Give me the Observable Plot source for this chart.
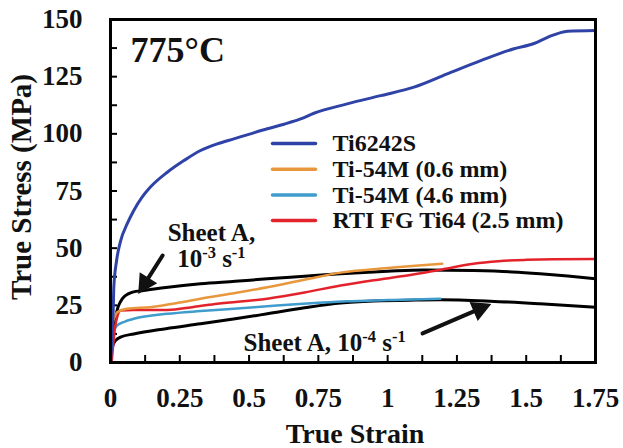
<!DOCTYPE html>
<html>
<head>
<meta charset="utf-8">
<script src="https://cdn.jsdelivr.net/npm/d3@7"></script>
<script src="https://cdn.jsdelivr.net/npm/@observablehq/plot@0.6"></script>
<style>
  body { margin: 0; background: #fff; }
  #chart svg { display: block; }
</style>
</head>
<body>
<div id="chart"></div>
<script>
// Flow curves at 775°C: true stress (MPa) against true strain.

const ti6242sStrain = [0, 0.006, 0.01, 0.012, 0.022, 0.036, 0.06, 0.084, 0.114, 0.144, 0.205, 0.265, 0.325, 0.385, 0.445, 0.505, 0.566, 0.626, 0.686, 0.734, 0.854, 0.975, 1.095, 1.215, 1.336, 1.456, 1.528, 1.577, 1.649, 1.75];
const ti6242sStress = [0, 12.5, 24, 33, 44.6, 53, 60.6, 66.5, 72.3, 76.7, 83.2, 88.3, 92.7, 95.6, 97.8, 100, 102.2, 104.2, 106.5, 109, 113.1, 116.7, 120.4, 126.2, 132, 137.2, 139.5, 142.2, 144.9, 145.2];

const ti54mThinStrain = [0, 0.012, 0.024, 0.06, 0.144, 0.25, 0.325, 0.45, 0.566, 0.7, 0.83, 1.01, 1.1, 1.197];
const ti54mThinStress = [14, 19, 22, 23.5, 24.2, 26.2, 27.9, 30.4, 32.9, 36.2, 39.3, 41.4, 42.3, 43.2];

const ti54mThickStrain = [0, 0.012, 0.024, 0.05, 0.084, 0.205, 0.325, 0.445, 0.6, 0.75, 0.854, 1.0, 1.19];
const ti54mThickStress = [11, 14, 16.2, 17.8, 19.1, 21.3, 22.5, 23.5, 24.9, 26.1, 26.8, 27.3, 27.9];

const rtiTi64Strain = [0.004, 0.01, 0.016, 0.024, 0.036, 0.084, 0.205, 0.3, 0.385, 0.566, 0.7, 0.83, 0.95, 1.07, 1.2, 1.31, 1.4, 1.5, 1.6, 1.75];
const rtiTi64Stress = [0, 8, 15, 19.8, 22.7, 23, 23, 24.3, 25.7, 27.9, 30.6, 33.7, 36, 38, 40.8, 43.2, 44.3, 44.9, 45.2, 45.3];

const sheetAFastStrain = [0, 0.005, 0.01, 0.018, 0.026, 0.036, 0.048, 0.062, 0.08, 0.12, 0.2, 0.325, 0.45, 0.566, 0.7, 0.83, 1.0, 1.13, 1.31, 1.45, 1.55, 1.65, 1.75];
const sheetAFastStress = [0, 8, 14, 19.8, 23.8, 26.6, 28.6, 29.9, 30.8, 31.5, 32.8, 34.4, 35.5, 36.6, 37.7, 38.8, 39.9, 40.5, 40.2, 39.6, 38.8, 37.8, 36.6];

const sheetASlowStrain = [0, 0.004, 0.01, 0.018, 0.036, 0.084, 0.2, 0.325, 0.45, 0.566, 0.7, 0.83, 0.95, 1.1, 1.19, 1.37, 1.55, 1.75];
const sheetASlowStress = [0, 5, 8, 9.6, 11.1, 12.5, 14.8, 16.9, 19.1, 21.3, 23.9, 26.0, 26.9, 27.3, 27.4, 26.8, 25.7, 24.2];

const legendNames = ["Ti6242S", "Ti-54M (0.6 mm)", "Ti-54M (4.6 mm)", "RTI FG Ti64 (2.5 mm)"];

const xLabelTicks = [0, 0.25, 0.5, 0.75, 1, 1.25, 1.5, 1.75];
const xMinorTicks = [0.125, 0.25, 0.375, 0.5, 0.625, 0.75, 0.875, 1, 1.125, 1.25, 1.375, 1.5, 1.625];
const yLabelTicks = [0, 25, 50, 75, 100, 125, 150];
const yMinorTicks = [12.5, 25, 37.5, 50, 62.5, 75, 87.5, 100, 112.5, 125, 137.5];

// Annotation anchors, in strain / stress units
const noteTexts = ["Sheet A,\n10^-3 s^-1", "Sheet A, 10^-4 s^-1"];
const noteStrain = [0.364, 0.48];
const noteStress = [51.0, 8.6];
const noteAnchor = ["middle", "start"];
const arrowFrom = [[0.188, 46.8], [1.126, 12.7]];
const arrowTo = [[0.108, 31.5], [1.36, 24.9]];

const FONT = '"Liberation Serif", "Times New Roman", Times, serif';
const W = 623, H = 448, ML = 110, MR = 28, MT = 19, MB = 86;
const X_MAX = 1.75, Y_MAX = 150;
const plotW = W - ML - MR, plotH = H - MT - MB;

const rows = (xs, ys) => xs.map((x, i) => ({strain: x, stress: ys[i]}));

const series = [
  {name: legendNames[0], color: "#2f43a7", width: 3, rows: rows(ti6242sStrain, ti6242sStress)},
  {name: legendNames[1], color: "#e8973c", width: 2.5, rows: rows(ti54mThinStrain, ti54mThinStress)},
  {name: legendNames[2], color: "#3f9ccc", width: 2.5, rows: rows(ti54mThickStrain, ti54mThickStress)},
  {name: legendNames[3], color: "#e3232b", width: 2.5, rows: rows(rtiTi64Strain, rtiTi64Stress)}
];
const sheetCurves = [rows(sheetAFastStrain, sheetAFastStress), rows(sheetASlowStrain, sheetASlowStress)];

// a plain stroke used for legend swatches
const stick = {draw(context, l) { context.moveTo(0, 0); context.lineTo(0, -l); }};
// shaft with a solid head
const pointer = {draw(context, l) {
  const h = 13, w = 7;
  context.moveTo(0, 0); context.lineTo(0, -(l - h + 2));
  context.moveTo(0, -l); context.lineTo(-w, -l + h); context.lineTo(w, -l + h); context.closePath();
}};

// arrow geometry in screen space, from the linear x / y scales
const arrows = arrowFrom.map((p, i) => {
  const q = arrowTo[i];
  const dx = (q[0] - p[0]) / X_MAX * plotW;
  const up = (q[1] - p[1]) / Y_MAX * plotH;
  return {x: p[0], y: p[1], length: Math.hypot(dx, up), angle: Math.atan2(dx, up) * 180 / Math.PI};
});

const text = {fontFamily: FONT, fontWeight: "bold", fill: "#111"};

const marks = [
  // inward-pointing ticks
  Plot.tickY(yMinorTicks, {y: d => d, insetRight: plotW - 7, stroke: "black", strokeWidth: 2}),
  Plot.tickX(xMinorTicks, {x: d => d, insetTop: plotH - 7, stroke: "black", strokeWidth: 2}),
  Plot.axisY({ticks: yLabelTicks, tickSize: 0, tickPadding: 28, tickFormat: d => String(d), label: null, fontSize: 27, ...text}),
  Plot.axisX({ticks: xLabelTicks, tickSize: 0, tickPadding: 25, tickFormat: d => String(d), label: null, fontSize: 27, ...text}),
  // Sheet A reference curves
  ...sheetCurves.map(r => Plot.line(r, {x: "strain", y: "stress", stroke: "#000", strokeWidth: 3, curve: "monotone-x"})),
  // measured alloys (drawn back to front)
  ...[2, 3, 1, 0].map(i => Plot.line(series[i].rows, {x: "strain", y: "stress", stroke: series[i].color, strokeWidth: series[i].width, curve: "monotone-x"})),
  Plot.frame({stroke: "black", strokeWidth: 3}),
  // temperature tag
  Plot.text(["775°C"], {frameAnchor: "top-left", dx: 20, dy: 31, textAnchor: "start", lineAnchor: "middle", fontSize: 36, ...text}),
  // legend
  ...series.flatMap((s, i) => [
    Plot.vector([s.name], {frameAnchor: "top-left", dx: 162, dy: 124 + i * 25.7, length: 43, rotate: 90, anchor: "start", shape: stick, stroke: s.color, strokeWidth: 3.5}),
    Plot.text([s.name], {frameAnchor: "top-left", dx: 222, dy: 124 + i * 25.7, textAnchor: "start", lineAnchor: "middle", fontSize: 24, ...text})
  ]),
  // annotations
  ...noteTexts.map((t, i) => Plot.text([t], {x: () => noteStrain[i], y: () => noteStress[i], textAnchor: noteAnchor[i], lineAnchor: "middle", lineHeight: 1.04, fontSize: 25, ...text})),
  Plot.vector(arrows, {x: "x", y: "y", length: "length", rotate: "angle", anchor: "start", shape: pointer, stroke: "#111", fill: "#111", strokeWidth: 4, strokeLinejoin: "miter"}),
  // axis titles
  Plot.text(["True Stress (MPa)"], {frameAnchor: "left", dx: -89, dy: -4, rotate: -90, textAnchor: "middle", lineAnchor: "middle", fontSize: 29, ...text}),
  Plot.text(["True Strain"], {frameAnchor: "bottom", dx: 2, dy: 72, textAnchor: "middle", lineAnchor: "middle", fontSize: 28, ...text})
];

const chart = Plot.plot({
  width: W,
  height: H,
  marginLeft: ML,
  marginRight: MR,
  marginTop: MT,
  marginBottom: MB,
  style: {background: "#fff", overflow: "visible", fontFamily: FONT},
  x: {domain: [0, X_MAX]},
  y: {domain: [0, Y_MAX]},
  length: {type: "identity"},
  marks
});

// turn "^-3" style markers into raised, smaller tspans (works on single and multi-line labels)
d3.select(chart).selectAll("text, tspan").each(function () {
  if (this.children.length) return;
  const s = this.textContent;
  if (!s.includes("^")) return;
  const el = d3.select(this);
  const size = parseFloat(this.closest("[font-size]")?.getAttribute("font-size")) || 25;
  el.text(null);
  s.split(/(\^-?\d+)/).filter(Boolean).forEach(part => {
    if (part.startsWith("^")) {
      el.append("tspan").attr("font-size", size * 0.66).attr("baseline-shift", size * 0.36).text(part.slice(1));
    } else {
      el.append("tspan").text(part);
    }
  });
});

document.getElementById("chart").append(chart);
</script>
</body>
</html>
